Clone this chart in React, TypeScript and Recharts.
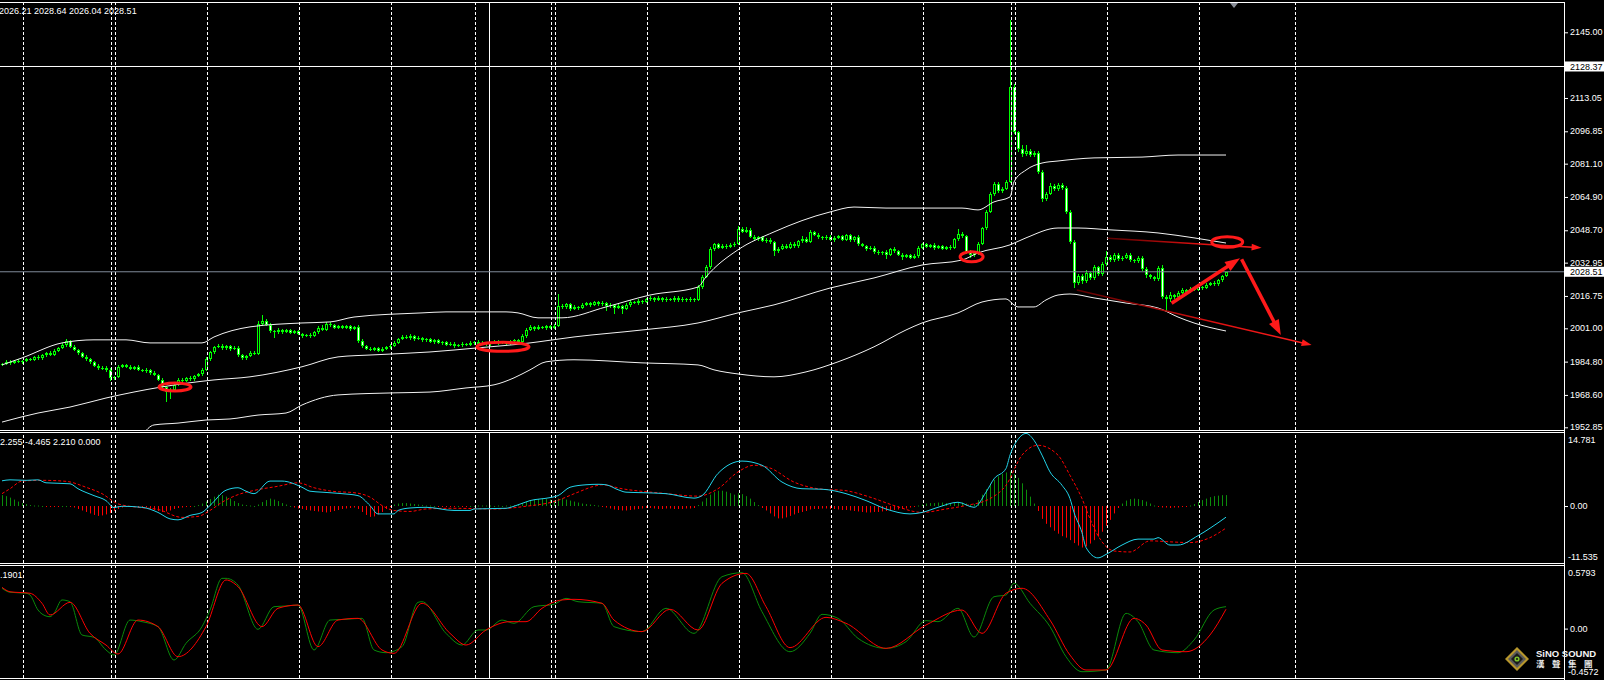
import React from 'react'
import { Bar, ComposedChart, Line, ReferenceDot, ReferenceLine, XAxis, YAxis } from 'recharts'

// XAUUSD H1 - one value per bar, bar index 0..306
const firstOpen = 1983.1
const closes = [
  1983.6, 1984.8, 1984.2, 1985.0, 1984.5, 1985.3, 1986.1, 1985.6, 1987.0, 1986.4,
  1987.8, 1988.9, 1988.2, 1990.1, 1991.5, 1993.0, 1994.6, 1991.8, 1990.6, 1988.9,
  1987.2, 1985.9, 1984.4, 1982.8, 1981.5, 1981.9, 1980.6, 1976.8, 1977.4, 1982.3,
  1983.0, 1982.2, 1981.4, 1982.1, 1980.9, 1980.2, 1980.8, 1979.3, 1978.5, 1976.0,
  1972.4, 1970.2, 1971.0, 1973.5, 1976.1, 1975.6, 1976.8, 1976.2, 1977.9, 1978.6,
  1980.8, 1985.9, 1989.4, 1991.8, 1992.5, 1991.3, 1992.2, 1990.9, 1991.6, 1987.8,
  1986.4, 1987.5, 1989.2, 1988.7, 2003.0, 2004.6, 2002.8, 1999.8, 1999.0, 2000.3,
  1999.2, 2000.0, 1998.8, 1999.5, 1998.3, 1997.4, 1997.9, 1997.2, 1999.0, 2001.3,
  2000.4, 2003.2, 2002.5, 2001.2, 2002.0, 2001.4, 2001.9, 2000.8, 2001.6, 1995.0,
  1992.3, 1991.0, 1990.6, 1991.4, 1990.2, 1991.0, 1991.7, 1992.5, 1994.1, 1995.8,
  1996.9, 1996.2, 1997.1, 1995.8, 1996.4, 1995.2, 1995.7, 1994.5, 1995.1, 1993.9,
  1994.3, 1993.1, 1993.6, 1992.4, 1992.9, 1993.5, 1993.0, 1993.9, 1994.4, 1993.6,
  1994.0, 1993.2, 1993.8, 1994.5, 1993.9, 1994.2, 1993.5, 1994.6, 1995.1, 1994.3,
  1997.2, 2000.4, 2001.5, 2000.8, 2001.7, 2001.2, 2002.1, 2001.4, 2002.3, 2012.0,
  2011.2, 2012.8, 2010.4, 2011.6, 2010.9, 2012.3, 2013.1, 2012.4, 2013.6, 2012.9,
  2013.4, 2011.8, 2012.5, 2011.0, 2011.7, 2010.6, 2012.4, 2014.0, 2013.2, 2014.3,
  2013.8, 2015.1, 2015.8, 2014.9, 2015.6, 2014.7, 2015.4, 2014.8, 2015.9, 2014.6,
  2015.2, 2014.7, 2015.3, 2014.9, 2021.0, 2026.2, 2030.8, 2039.5, 2041.8, 2040.3,
  2041.2, 2040.5, 2041.6, 2042.2, 2049.4, 2048.1, 2048.9, 2045.6, 2044.3, 2045.2,
  2043.6, 2044.2, 2042.9, 2038.5, 2039.6, 2041.2, 2040.3, 2042.0, 2041.0, 2043.5,
  2044.6, 2043.2, 2047.8, 2046.6, 2045.4, 2044.8, 2045.6, 2044.1, 2045.0, 2045.8,
  2044.2, 2046.2, 2043.9, 2045.4, 2042.0, 2041.1, 2039.6, 2040.2, 2038.1, 2037.4,
  2038.0, 2036.9, 2039.6, 2038.4, 2036.8, 2035.9, 2036.5, 2035.4, 2036.2, 2040.3,
  2041.8, 2040.7, 2041.4, 2040.2, 2040.9, 2039.8, 2040.5, 2040.1, 2044.3, 2047.0,
  2045.8, 2038.2, 2036.6, 2037.4, 2042.0, 2049.6, 2057.8, 2066.4, 2071.2, 2068.0,
  2068.9, 2072.4, 2118.5, 2096.3, 2088.0, 2085.6, 2087.3, 2085.2, 2086.5, 2077.0,
  2063.8, 2066.5, 2070.2, 2068.7, 2070.8, 2069.4, 2057.8, 2043.0, 2023.2, 2026.4,
  2024.0, 2027.8, 2025.4, 2030.6, 2027.2, 2032.2, 2035.8, 2034.2, 2036.8, 2034.6,
  2035.4, 2036.8, 2034.0, 2033.6, 2035.2, 2030.0, 2026.8, 2025.9, 2024.8, 2030.2,
  2016.4, 2015.2, 2017.1, 2016.3, 2018.4, 2019.6, 2018.9, 2020.1, 2019.8, 2021.0,
  2020.6, 2022.3, 2023.1, 2022.4, 2024.5, 2026.21, 2028.51,
]
const wickUp = [
  0.5, 0.8, 0.6, 0.4, 0.9, 0.5, 0.7, 0.6, 0.4, 0.8, 0.6, 0.5, 0.9, 0.7, 0.5, 0.8, 1.2, 0.6, 0.9, 0.5,
  0.8, 0.6, 0.5, 0.9, 0.7, 0.6, 0.8, 1.0, 0.6, 0.9, 0.7, 0.5, 0.8, 0.6, 0.9, 0.5, 0.7, 0.6, 0.8, 0.5,
  0.9, 0.6, 0.8, 0.7, 0.5, 0.9, 0.6, 0.8, 0.5, 0.7, 0.9, 1.1, 0.8, 0.6, 0.9, 0.7, 0.5, 0.8, 0.6, 0.9,
  0.7, 0.5, 0.8, 0.9, 1.6, 3.0, 0.8, 0.7, 0.5, 0.9, 0.6, 0.8, 0.5, 0.7, 0.9, 0.6, 0.5, 0.8, 0.7, 0.9,
  1.4, 1.0, 0.7, 0.6, 0.8, 0.5, 0.9, 0.6, 0.7, 0.8, 0.6, 0.5, 0.9, 0.7, 0.6, 0.8, 0.5, 0.7, 0.9, 0.6,
  0.8, 0.7, 0.9, 0.5, 0.7, 0.6, 0.8, 0.5, 0.6, 0.9, 0.5, 0.7, 0.6, 0.8, 0.5, 0.9, 0.6, 0.7, 0.5, 0.8,
  0.6, 0.5, 0.7, 0.9, 0.6, 0.8, 0.5, 0.7, 0.6, 0.9, 0.8, 0.7, 0.9, 0.6, 0.8, 0.5, 0.7, 0.6, 0.9, 5.8,
  0.9, 0.7, 0.6, 0.8, 0.5, 0.9, 0.7, 0.6, 0.8, 0.5, 0.7, 0.6, 0.8, 0.5, 0.9, 0.6, 0.7, 0.8, 0.5, 0.9,
  0.6, 0.8, 0.7, 0.5, 0.9, 0.6, 0.8, 0.5, 0.7, 0.6, 0.8, 0.5, 0.7, 0.6, 1.0, 0.9, 1.2, 1.1, 0.8, 0.7,
  0.9, 0.6, 0.8, 1.0, 1.6, 0.9, 1.2, 0.7, 0.8, 0.6, 0.9, 0.7, 0.6, 0.8, 0.9, 0.7, 0.6, 0.8, 0.9, 0.7,
  1.4, 0.8, 1.0, 0.7, 0.9, 0.6, 0.8, 0.7, 0.9, 0.6, 0.8, 0.7, 0.9, 0.6, 0.8, 0.7, 0.6, 0.9, 0.7, 0.8,
  0.6, 0.9, 0.7, 0.8, 0.6, 0.9, 0.7, 0.6, 0.8, 0.9, 0.7, 0.8, 0.6, 0.9, 0.7, 0.8, 0.6, 0.9, 0.8, 2.2,
  0.9, 0.7, 0.8, 0.6, 0.9, 0.8, 1.0, 1.1, 0.9, 1.2, 0.9, 0.8, 32.5, 1.2, 0.9, 2.0, 2.8, 1.0, 0.9, 0.8,
  0.9, 0.7, 1.3, 0.9, 1.1, 0.8, 0.9, 1.0, 1.2, 0.8, 1.0, 1.5, 0.8, 1.1, 0.9, 1.2, 2.8, 0.9, 1.0, 0.8,
  0.9, 0.7, 1.0, 0.8, 1.2, 0.9, 0.7, 0.8, 0.6, 0.9, 1.8, 0.9, 1.4, 0.8, 0.7, 0.9, 0.6, 0.8, 0.7, 0.6,
  0.8, 0.7, 0.6, 0.9, 0.7, 0.5, 0.13,
]
const wickDown = [
  0.6, 0.5, 0.8, 0.7, 0.5, 0.9, 0.6, 0.7, 0.5, 0.8, 0.7, 0.6, 0.5, 0.8, 0.6, 0.7, 0.9, 0.6, 0.8, 0.7,
  0.6, 0.9, 0.7, 0.8, 0.6, 0.9, 0.7, 1.2, 0.8, 0.6, 0.8, 0.6, 0.9, 0.7, 0.8, 0.5, 0.7, 0.9, 0.6, 0.8,
  1.2, 5.0, 3.5, 0.8, 0.6, 0.9, 0.7, 0.6, 0.8, 0.5, 0.6, 0.8, 0.7, 0.9, 0.6, 0.8, 0.7, 0.9, 0.6, 0.8,
  1.0, 0.7, 0.6, 0.8, 0.9, 0.7, 0.6, 1.0, 2.5, 0.7, 0.9, 0.6, 0.8, 0.7, 0.6, 0.9, 0.7, 0.8, 0.6, 0.7,
  0.8, 0.6, 0.9, 0.7, 0.6, 0.8, 0.7, 0.9, 0.6, 1.1, 0.9, 0.7, 0.6, 0.8, 0.9, 0.6, 0.7, 0.8, 0.6, 0.9,
  0.7, 0.6, 0.8, 0.9, 0.6, 0.7, 0.8, 0.6, 0.9, 0.7, 0.8, 0.6, 0.7, 0.9, 0.6, 0.8, 0.7, 0.6, 0.9, 0.7,
  0.6, 0.8, 0.7, 0.6, 0.9, 0.7, 0.8, 0.6, 0.7, 0.9, 0.7, 0.8, 0.6, 0.9, 0.7, 0.6, 0.8, 0.7, 0.9, 0.6,
  0.8, 0.7, 0.9, 0.6, 0.8, 0.7, 0.6, 0.9, 0.7, 0.8, 1.0, 2.6, 0.8, 3.2, 0.7, 2.4, 0.8, 0.9, 0.6, 0.7,
  0.8, 0.6, 0.7, 0.9, 0.6, 0.8, 0.7, 0.6, 0.9, 0.7, 0.6, 0.8, 0.7, 1.2, 0.8, 0.9, 0.7, 1.0, 0.8, 0.9,
  0.7, 0.8, 0.6, 0.9, 0.7, 0.8, 0.6, 0.9, 0.7, 0.8, 0.6, 0.9, 0.7, 2.4, 0.8, 0.7, 0.9, 0.6, 0.8, 0.7,
  0.9, 0.7, 0.8, 0.6, 0.9, 0.7, 0.8, 0.6, 0.9, 0.7, 0.8, 0.6, 0.9, 0.7, 0.8, 0.6, 0.9, 0.7, 0.8, 0.6,
  0.9, 2.2, 0.7, 0.8, 0.6, 1.8, 0.7, 0.8, 0.6, 0.9, 0.7, 0.8, 0.6, 0.9, 0.7, 0.8, 0.6, 0.9, 0.7, 0.8,
  0.9, 1.0, 1.6, 0.8, 0.9, 0.7, 0.8, 0.6, 0.9, 1.2, 1.0, 0.8, 0.9, 1.0, 1.4, 1.2, 0.8, 1.0, 0.9, 1.1,
  1.2, 0.9, 0.8, 1.0, 0.7, 0.9, 1.1, 0.8, 2.4, 1.0, 1.2, 0.8, 0.9, 1.1, 0.8, 0.9, 0.7, 1.0, 0.8, 0.9,
  0.8, 0.9, 0.7, 1.0, 0.8, 0.9, 1.2, 0.8, 1.0, 0.9, 1.1, 6.2, 1.4, 0.9, 0.8, 0.7, 0.9, 0.6, 0.8, 0.7,
  0.9, 0.6, 0.8, 0.7, 0.6, 0.8, 0.17,
]

// Bollinger bands (20, 2), read at the bars where they bend
const upperBandBars = [0, 5, 15, 23, 31, 37, 50, 53, 62, 75, 82, 88, 105, 111, 126, 129, 134, 140, 151, 162, 174, 176, 184, 193, 207, 213, 221, 230, 240, 244, 248, 252, 253, 256, 260, 264, 273, 285, 294, 306]
const upperBand = [1983.2, 1986.6, 1993.9, 1995.4, 1995.4, 1993.9, 1993.9, 1996.8, 2001.7, 2003.6, 2004.1, 2006.5, 2008.5, 2009.0, 2009.0, 2008.5, 2006.1, 2006.1, 2011.4, 2017.2, 2021.1, 2026.0, 2039.2, 2047.9, 2057.6, 2060.0, 2059.5, 2059.5, 2059.5, 2058.6, 2062.5, 2064.9, 2072.2, 2078.0, 2081.4, 2082.4, 2083.9, 2084.3, 2085.3, 2085.3]
const middleBandBars = [0, 9, 17, 26, 40, 53, 62, 75, 84, 93, 107, 119, 132, 134, 143, 160, 174, 184, 193, 207, 218, 230, 240, 244, 252, 256, 264, 269, 277, 289, 298, 306]
const middleBand = [1955.4, 1959.8, 1962.7, 1967.1, 1972.5, 1975.9, 1977.4, 1982.3, 1987.1, 1988.1, 1989.5, 1991.5, 1993.9, 1994.4, 1996.8, 2000.2, 2003.6, 2008.5, 2012.4, 2020.6, 2025.5, 2031.8, 2034.2, 2037.7, 2041.6, 2045.0, 2049.8, 2049.8, 2048.9, 2047.4, 2045.0, 2042.5]
const lowerBandBars = [35, 38, 44, 51, 57, 64, 71, 75, 84, 98, 107, 116, 123, 128, 132, 136, 143, 160, 174, 178, 184, 193, 201, 209, 218, 226, 230, 239, 245, 251, 253, 254, 258, 261, 264, 267, 273, 281, 289, 294, 298, 306]
const lowerBand = [1949.0, 1954.0, 1954.9, 1956.4, 1956.9, 1958.8, 1959.8, 1963.7, 1968.6, 1969.6, 1970.0, 1972.0, 1973.5, 1976.9, 1980.8, 1984.7, 1985.7, 1984.2, 1983.2, 1980.8, 1978.8, 1977.4, 1979.8, 1984.7, 1992.0, 2000.2, 2003.6, 2008.5, 2013.8, 2015.3, 2012.4, 2011.4, 2011.4, 2014.8, 2017.2, 2017.7, 2015.8, 2013.3, 2010.9, 2006.5, 2003.6, 1999.7]

// MACD histogram, one value per bar
const macdHist = [
  2.2, 2.0, 1.7, 1.3, 0.9, 0.6, 0.4, 0.2, 0.1, 0.1, 0.0, -0.1, -0.1, -0.2, -0.1, 0.0, 0.0, -0.1, -0.3, -0.6,
  -0.9, -1.2, -1.5, -1.8, -2.0, -1.9, -1.7, -1.4, -1.0, -0.6, -0.3, -0.1, -0.1, -0.2, -0.3, -0.2, -0.3, -0.5, -0.8, -1.0,
  -1.2, -1.1, -0.9, -0.6, -0.4, -0.3, -0.2, -0.1, 0.0, 0.2, 0.5, 0.9, 1.4, 1.9, 2.3, 2.2, 1.9, 1.5, 1.0, 0.6,
  0.3, 0.2, 0.1, 0.0, 0.3, 0.8, 1.2, 1.5, 1.3, 1.0, 0.6, 0.3, 0.0, -0.3, -0.5, -0.6, -0.8, -0.9, -1.0, -1.1,
  -1.2, -1.3, -1.2, -1.0, -0.8, -0.6, -0.5, -0.4, -0.3, -0.6, -1.2, -1.8, -2.2, -2.1, -1.7, -1.2, -0.6, -0.1, 0.3, 0.5,
  0.6, 0.6, 0.5, 0.4, 0.3, 0.2, 0.1, 0.1, 0.0, -0.1, -0.1, -0.1, -0.1, -0.1, 0.0, -0.1, -0.1, 0.0, 0.0, 0.1,
  0.1, 0.1, 0.1, 0.0, 0.1, 0.0, 0.1, 0.1, 0.2, 0.3, 0.6, 0.9, 1.1, 1.3, 1.4, 1.5, 1.4, 1.3, 1.1, 1.5,
  1.5, 1.3, 1.1, 0.9, 0.7, 0.5, 0.4, 0.3, 0.2, 0.1, -0.1, -0.3, -0.5, -0.7, -0.8, -0.9, -0.9, -0.8, -0.7, -0.6,
  -0.5, -0.4, -0.4, -0.5, -0.6, -0.6, -0.5, -0.5, -0.6, -0.6, -0.6, -0.5, -0.5, -0.4, 0.2, 0.9, 1.6, 2.3, 2.8, 3.1,
  3.1, 2.9, 2.6, 2.3, 2.6, 2.4, 2.0, 1.5, 0.8, 0.2, -0.4, -0.9, -1.5, -2.1, -2.5, -2.5, -2.3, -2.0, -1.7, -1.4,
  -1.2, -1.0, -0.7, -0.6, -0.6, -0.5, -0.5, -0.6, -0.6, -0.7, -0.8, -0.8, -0.9, -1.0, -1.1, -1.2, -1.3, -1.3, -1.2, -1.2,
  -1.1, -1.0, -0.9, -0.8, -0.7, -0.6, -0.5, -0.3, -0.1, 0.1, 0.3, 0.5, 0.6, 0.6, 0.7, 0.7, 0.6, 0.6, 0.7, 0.8,
  0.7, 0.5, 0.3, 0.4, 1.2, 2.3, 3.4, 4.5, 5.3, 6.0, 6.5, 6.8, 7.0, 6.5, 5.7, 4.6, 3.3, 1.9, 0.5, -1.0,
  -2.6, -3.6, -4.3, -5.0, -5.6, -6.1, -6.4, -6.9, -7.5, -8.0, -8.4, -8.2, -7.6, -6.9, -6.2, -5.2, -4.0, -2.8, -1.5, -0.4,
  0.5, 1.1, 1.4, 1.5, 1.4, 1.2, 0.9, 0.5, 0.1, -0.2, -0.3, -0.3, -0.4, -0.3, -0.3, -0.2, -0.1, 0.1, 0.4, 0.8,
  1.2, 1.5, 1.8, 2.0, 2.1, 2.2, 2.21,
]
const macdBars = [0, 2, 6, 9, 11, 17, 19, 23, 26, 28, 30, 35, 39, 42, 44, 47, 50, 52, 56, 59, 61, 63, 67, 70, 75, 77, 80, 85, 89, 92, 94, 98, 99, 102, 106, 113, 117, 118, 126, 128, 132, 137, 139, 142, 146, 149, 151, 154, 156, 160, 166, 173, 175, 179, 185, 190, 195, 200, 205, 211, 216, 221, 227, 230, 234, 239, 243, 246, 248, 251, 252, 254, 256, 258, 260, 262, 265, 267, 268, 270, 271, 274, 276, 280, 284, 288, 289, 292, 294, 299, 302, 306]
const macdLine = [5.1, 5.3, 5.2, 5.3, 4.7, 4.5, 3.5, 2.1, 1.1, -0.3, -0.05, -0.26, -1.3, -2.6, -2.8, -1.9, -1.3, 0.1, 3.2, 3.7, 3.0, 2.5, 5.05, 5.05, 3.8, 3.0, 2.8, 2.5, 2.1, 0.1, -1.6, -1.6, -0.9, -0.4, -0.26, -0.9, -0.9, -0.6, -0.46, -0.05, 1.1, 1.7, 2.1, 3.8, 4.3, 4.4, 4.3, 3.3, 2.8, 2.7, 2.5, 1.6, 2.1, 6.6, 9.1, 8.25, 4.85, 3.5, 3.4, 2.5, 1.1, -0.6, -1.6, -1.3, -0.26, 0.76, -0.26, 2.8, 5.5, 7.6, 10.3, 13.5, 14.7, 13.3, 10.3, 6.9, 4.2, 1.5, -1.3, -5.4, -8.4, -10.5, -9.8, -7.9, -6.7, -6.7, -6.4, -7.9, -7.9, -6.0, -4.5, -2.255]
const signalBars = [0, 2, 5, 10, 16, 21, 25, 29, 34, 39, 45, 49, 52, 55, 59, 63, 69, 74, 78, 83, 88, 92, 95, 98, 102, 106, 113, 123, 131, 138, 144, 148, 150, 155, 165, 174, 179, 184, 188, 192, 198, 204, 211, 217, 223, 230, 236, 241, 247, 251, 255, 259, 264, 267, 270, 272, 274, 278, 282, 287, 292, 297, 302, 306]
const signalLine = [2.5, 3.5, 5.05, 5.2, 5.0, 3.8, 2.5, 0.44, -0.26, -0.7, -2.3, -2.1, -0.9, 0.76, 2.3, 3.15, 4.0, 4.7, 3.7, 2.95, 2.7, 1.8, 0.1, -0.9, -1.1, -0.6, -0.46, -0.6, -0.05, 0.9, 2.8, 4.0, 4.3, 3.5, 2.6, 2.0, 3.5, 6.9, 8.25, 7.7, 4.85, 3.5, 3.1, 1.8, 0.1, -1.3, -0.6, 0.1, 1.5, 4.2, 10.3, 12.3, 10.3, 6.2, 1.5, -2.6, -6.0, -9.1, -9.3, -7.05, -7.25, -7.4, -6.4, -4.465]

// oscillator (main + signal)
const oscBars = [0, 2, 6, 7, 9, 10, 12, 13, 15, 17, 20, 23, 26, 28, 32, 35, 39, 43, 46, 50, 52, 55, 56, 59, 64, 68, 71, 74, 78, 82, 86, 90, 93, 96, 100, 104, 105, 111, 115, 119, 121, 125, 128, 133, 138, 141, 144, 150, 153, 160, 166, 173, 180, 185, 190, 197, 202, 205, 209, 214, 221, 226, 231, 234, 239, 243, 248, 251, 253, 257, 262, 266, 270, 276, 281, 284, 288, 294, 298, 303, 306]
const oscLine = [0.373, 0.336, 0.327, 0.311, 0.172, 0.135, 0.110, 0.141, 0.265, 0.249, -0.059, -0.081, -0.198, -0.245, 0.079, 0.064, 0.018, -0.291, -0.136, 0.018, 0.172, 0.465, 0.465, 0.403, -0.007, 0.203, 0.209, 0.218, -0.198, 0.079, 0.086, 0.095, -0.198, -0.223, -0.167, 0.243, 0.249, -0.044, -0.152, -0.013, -0.013, 0.079, 0.049, 0.203, 0.225, 0.280, 0.249, 0.234, 0.018, -0.028, 0.188, -0.044, 0.480, 0.517, 0.156, -0.214, -0.044, 0.132, 0.095, -0.090, -0.183, -0.121, 0.074, 0.064, 0.188, -0.078, 0.295, 0.311, 0.419, 0.234, 0.018, -0.260, -0.399, -0.383, 0.141, 0.064, -0.198, -0.223, -0.106, 0.172, 0.203]
const oscSignalBars = [0, 2, 7, 10, 12, 17, 22, 26, 29, 34, 39, 44, 51, 56, 59, 65, 69, 74, 79, 84, 89, 95, 98, 105, 112, 116, 121, 127, 131, 135, 140, 143, 150, 153, 160, 167, 174, 180, 186, 191, 197, 206, 211, 221, 231, 240, 245, 251, 255, 262, 267, 271, 276, 283, 286, 290, 296, 302, 306]
const oscSignal = [0.382, 0.341, 0.327, 0.234, 0.126, 0.243, -0.044, -0.152, -0.235, 0.079, 0.018, -0.260, 0.018, 0.450, 0.388, 0.018, 0.188, 0.218, -0.167, 0.079, 0.095, -0.198, -0.229, 0.234, -0.044, -0.152, -0.013, 0.064, 0.064, 0.188, 0.265, 0.271, 0.234, 0.079, -0.028, 0.179, -0.013, 0.419, 0.511, 0.203, -0.176, 0.104, 0.049, -0.183, 0.033, 0.172, -0.044, 0.327, 0.373, 0.079, -0.245, -0.383, -0.383, 0.095, 0.033, -0.198, -0.214, -0.059, 0.179]

// axis ticks
const priceTicks = [2145, 2113.05, 2096.85, 2081.1, 2064.9, 2048.7, 2032.95, 2016.75, 2001, 1984.8, 1968.6, 1952.85]
const macdTicks = [14.781, 0, -11.535]
const oscTicks = [0.5793, 0, -0.4572]

// objects on the chart
const daySeparators = [5.375, 27.375, 28.375, 51.375, 74.375, 97.375, 118.375, 137.375, 138.375, 161.375, 184.375, 207.375, 230.375, 252.375, 253.375, 276.375, 299.375, 323.375]
const cursorBar = 121.875
const levelLine = 2128.37
const bidPrice = 2028.51
const ellipseBars = [43.25, 125.25, 242.4, 306.3]
const ellipsePrices = [1972.5, 1992.0, 2035.8, 2043.0]
const thinFromBars = [276.4, 268.7]
const thinFromPrices = [2044.8, 2019.6]
const thinToBars = [314.9, 327.4]
const thinToPrices = [2040.2, 1992.9]
const thickFromBars = [292.4, 309.9]
const thickFromPrices = [2013.2, 2034.6]
const thickToBars = [309.5, 319.7]
const thickToPrices = [2035.1, 1997.8]

const LIME = '#00ff00'
const FONT = '"Liberation Sans", Arial, sans-serif'
const X_DOMAIN: [number, number] = [-0.5, 390.5]
const PRICE_DOMAIN: [number, number] = [1951.54, 2159.74]
const MACD_DOMAIN: [number, number] = [-11.535, 14.781]
const OSC_DOMAIN: [number, number] = [-0.4572, 0.5793]
const ellipseSizes = [
  { rx: 16, ry: 4 },
  { rx: 26, ry: 4.5 },
  { rx: 11.5, ry: 5 },
  { rx: 15.5, ry: 5.3 },
]

const candles = closes.map((close, i) => {
  const open = i === 0 ? firstOpen : closes[i - 1]
  const high = Math.max(open, close) + wickUp[i]
  const low = Math.min(open, close) - wickDown[i]
  return { i, open, high, low, close, range: [low, high], hist: macdHist[i] }
})

const toPoints = (bars: number[], values: number[]) => bars.map((i, k) => ({ i, v: values[k] }))

function CandleShape(props: any) {
  const { x, y, width, height, payload } = props
  const { open, close, high, low } = payload
  const cx = Math.round(x + width / 2)
  const span = high - low || 1
  const py = (v: number) => y + ((high - v) / span) * height
  const top = Math.round(Math.min(py(open), py(close)))
  const bottom = Math.round(Math.max(py(open), py(close)))
  const bull = close >= open
  return (
    <g>
      <line x1={cx + 0.5} x2={cx + 0.5} y1={Math.round(y)} y2={Math.round(y + height)} stroke={LIME} />
      {bottom - top < 2 ? (
        <line x1={cx - 1} x2={cx + 2} y1={top + 0.5} y2={top + 0.5} stroke={LIME} />
      ) : (
        <rect x={cx - 0.5} y={top + 0.5} width={2} height={bottom - top - 1} fill={bull ? '#000' : '#fff'} stroke={LIME} />
      )}
    </g>
  )
}

function HistShape(props: any) {
  const { x, y, width, height, payload } = props
  const cx = Math.round(x + width / 2)
  const top = Math.min(y, y + height)
  const h = Math.max(1, Math.abs(height))
  return <rect x={cx} y={top} width={1} height={h} fill={payload.hist >= 0 ? '#0b8c0b' : '#ff0000'} />
}

function makeTick(domain: [number, number], format: (v: number) => string) {
  return (props: any) => {
    const { x, y, payload } = props
    const v = payload.value
    const atTop = v === domain[1]
    const atBottom = v === domain[0]
    const dy = atTop ? 6.5 : atBottom ? -6.5 : 0
    return (
      <g>
        {!atTop && !atBottom && <line x1={x - 6} x2={x - 2} y1={y + 0.5} y2={y + 0.5} stroke="#fff" />}
        <text x={atTop || atBottom ? x - 2 : x} y={y + dy} dy="0.35em" fill="#fff" fontSize={9} fontFamily={FONT}>
          {format(v)}
        </text>
      </g>
    )
  }
}

const priceTick = makeTick(PRICE_DOMAIN, (v) => v.toFixed(2))
const macdTick = makeTick(MACD_DOMAIN, (v) => (v === 0 ? '0.00' : String(v)))
const oscTick = makeTick(OSC_DOMAIN, (v) => (v === 0 ? '0.00' : String(v)))

function priceBadge(text: string) {
  return (props: any) => {
    const { viewBox } = props
    const yy = viewBox.y
    const xx = viewBox.x + viewBox.width + 1
    return (
      <g>
        <rect x={xx} y={yy - 5} width={40} height={10} fill="#fff" />
        <text x={xx + 5} y={yy} dy="0.35em" fill="#000" fontSize={9} fontFamily={FONT}>
          {text}
        </text>
      </g>
    )
  }
}

function arrowShape(id: string, width: number, headLen: number, headHalf: number, fade: boolean) {
  return (props: any) => {
    const { x1, y1, x2, y2 } = props
    const dx = x2 - x1
    const dy = y2 - y1
    const len = Math.hypot(dx, dy) || 1
    const ux = dx / len
    const uy = dy / len
    const bx = x2 - ux * headLen
    const by = y2 - uy * headLen
    const px = -uy * headHalf
    const py = ux * headHalf
    const stroke = fade ? `url(#${id})` : '#ff1a1a'
    return (
      <g>
        {fade && (
          <defs>
            <linearGradient id={id} gradientUnits="userSpaceOnUse" x1={x1} y1={y1} x2={x2} y2={y2}>
              <stop offset="0" stopColor="#5a0000" />
              <stop offset="0.6" stopColor="#e01010" />
              <stop offset="1" stopColor="#ff2020" />
            </linearGradient>
          </defs>
        )}
        <line x1={x1} y1={y1} x2={bx + ux * 1} y2={by + uy * 1} stroke={stroke} strokeWidth={width} />
        <polygon points={`${x2},${y2} ${bx + px},${by + py} ${bx - px},${by - py}`} fill="#ff1a1a" />
      </g>
    )
  }
}

function separators(keyPrefix: string) {
  return [
    ...daySeparators.map((d) => (
      <ReferenceLine key={`${keyPrefix}-d${d}`} x={d} stroke="#fff" strokeDasharray="3 2" strokeWidth={1} />
    )),
    <ReferenceLine key={`${keyPrefix}-cursor`} x={cursorBar} stroke="#fff" strokeWidth={1} />,
  ]
}

export default function App() {
  const upper = toPoints(upperBandBars, upperBand)
  const middle = toPoints(middleBandBars, middleBand)
  const lower = toPoints(lowerBandBars, lowerBand)
  const macd = toPoints(macdBars, macdLine)
  const signal = toPoints(signalBars, signalLine)
  const osc = toPoints(oscBars, oscLine)
  const oscSig = toPoints(oscSignalBars, oscSignal)

  return (
    <div style={{ position: 'relative', width: 1604, height: 680, background: '#000', overflow: 'hidden' }}>
      <style>{'body{margin:0;background:#000}'}</style>

      <div style={{ position: 'absolute', left: 0, top: 0 }}>
        <ComposedChart width={1604} height={431} data={candles} margin={{ top: 2, right: 0, bottom: 1, left: 0 }}>
          <XAxis type="number" dataKey="i" domain={X_DOMAIN} hide allowDataOverflow />
          <YAxis
            orientation="right"
            width={40}
            domain={PRICE_DOMAIN}
            ticks={priceTicks}
            interval={0}
            allowDataOverflow
            axisLine={false}
            tickLine={false}
            tickSize={4}
            tickMargin={2}
            tick={priceTick}
          />
          {separators('p')}
          <ReferenceLine y={levelLine} stroke="#fff" strokeWidth={1} label={priceBadge('2128.37')} />
          <ReferenceLine y={bidPrice} stroke="#7f8a99" strokeWidth={1} label={priceBadge('2028.51')} />
          <Line data={upper} type="monotone" dataKey="v" stroke="#f2f2f2" strokeWidth={1} dot={false} activeDot={false} isAnimationActive={false} />
          <Line data={middle} type="monotone" dataKey="v" stroke="#f2f2f2" strokeWidth={1} dot={false} activeDot={false} isAnimationActive={false} />
          <Line data={lower} type="monotone" dataKey="v" stroke="#f2f2f2" strokeWidth={1} dot={false} activeDot={false} isAnimationActive={false} />
          <Bar dataKey="range" barSize={3} shape={CandleShape} isAnimationActive={false} />
          {ellipseBars.map((b, k) => (
            <ReferenceDot
              key={`e${k}`}
              x={b}
              y={ellipsePrices[k]}
              r={4}
              shape={(p: any) => (
                <ellipse cx={p.cx} cy={p.cy} rx={ellipseSizes[k].rx} ry={ellipseSizes[k].ry} fill="none" stroke="#ff1a1a" strokeWidth={3} />
              )}
            />
          ))}
          {thinFromBars.map((b, k) => (
            <ReferenceLine
              key={`t${k}`}
              segment={[
                { x: b, y: thinFromPrices[k] },
                { x: thinToBars[k], y: thinToPrices[k] },
              ]}
              shape={arrowShape(`thin${k}`, 1.6, 10, 3.5, true)}
            />
          ))}
          {thickFromBars.map((b, k) => (
            <ReferenceLine
              key={`k${k}`}
              segment={[
                { x: b, y: thickFromPrices[k] },
                { x: thickToBars[k], y: thickToPrices[k] },
              ]}
              shape={arrowShape(`thick${k}`, 3.5, 15, 5.5, false)}
            />
          ))}
        </ComposedChart>
      </div>

      <div style={{ position: 'absolute', left: 0, top: 433 }}>
        <ComposedChart width={1604} height={130} data={candles} margin={{ top: 0, right: 0, bottom: 0, left: 0 }}>
          <XAxis type="number" dataKey="i" domain={X_DOMAIN} hide allowDataOverflow />
          <YAxis
            orientation="right"
            width={40}
            domain={MACD_DOMAIN}
            ticks={macdTicks}
            interval={0}
            allowDataOverflow
            axisLine={false}
            tickLine={false}
            tickSize={4}
            tickMargin={2}
            tick={macdTick}
          />
          {separators('m')}
          <Bar dataKey="hist" barSize={1} shape={HistShape} isAnimationActive={false} />
          <Line data={signal} type="monotone" dataKey="v" stroke="#ff0000" strokeWidth={1} strokeDasharray="3 2" dot={false} activeDot={false} isAnimationActive={false} />
          <Line data={macd} type="monotone" dataKey="v" stroke="#22d4ea" strokeWidth={1} dot={false} activeDot={false} isAnimationActive={false} />
        </ComposedChart>
      </div>

      <div style={{ position: 'absolute', left: 0, top: 566 }}>
        <ComposedChart width={1604} height={112} data={candles} margin={{ top: 0, right: 0, bottom: 0, left: 0 }}>
          <XAxis type="number" dataKey="i" domain={X_DOMAIN} hide allowDataOverflow />
          <YAxis
            orientation="right"
            width={40}
            domain={OSC_DOMAIN}
            ticks={oscTicks}
            interval={0}
            allowDataOverflow
            axisLine={false}
            tickLine={false}
            tickSize={4}
            tickMargin={2}
            tick={oscTick}
          />
          {separators('o')}
          <Line data={osc} type="monotone" dataKey="v" stroke="#0a8a0a" strokeWidth={1} dot={false} activeDot={false} isAnimationActive={false} />
          <Line data={oscSig} type="monotone" dataKey="v" stroke="#ff0000" strokeWidth={1} dot={false} activeDot={false} isAnimationActive={false} />
        </ComposedChart>
      </div>

      <svg width={1604} height={680} style={{ position: 'absolute', left: 0, top: 0, pointerEvents: 'none' }}>
        <line x1={0} x2={1565} y1={2.5} y2={2.5} stroke="#fff" />
        <line x1={1564.5} x2={1564.5} y1={2} y2={680} stroke="#fff" />
        <line x1={0} x2={1564} y1={430.5} y2={430.5} stroke="#fff" />
        <line x1={0} x2={1564} y1={432.5} y2={432.5} stroke="#fff" />
        <line x1={0} x2={1564} y1={563.5} y2={563.5} stroke="#fff" />
        <line x1={0} x2={1564} y1={565.5} y2={565.5} stroke="#fff" />
        <line x1={0} x2={1564} y1={678.5} y2={678.5} stroke="#fff" />
        <polygon points="1230,3 1238,3 1234,8" fill="#8a8f99" />
        <text x={-1} y={14} fill="#fff" fontSize={9} fontFamily={FONT}>
          2026.21 2028.64 2026.04 2028.51
        </text>
        <text x={0} y={444.5} fill="#fff" fontSize={9} fontFamily={FONT}>
          2.255 -4.465 2.210 0.000
        </text>
        <text x={0} y={578} fill="#fff" fontSize={9} fontFamily={FONT}>
          .1901
        </text>
        <g>
          <polygon points="1517,647 1529,659 1517,671 1505,659" fill="#b8972c" />
          <polygon points="1517,650 1526,659 1517,668 1508,659" fill="#5a5a5a" />
          <polygon points="1517,653 1523,659 1517,665 1511,659" fill="#1a1a1a" />
          <circle cx={1517} cy={659} r={2.6} fill="#7cc22a" />
          <circle cx={1517} cy={659} r={1} fill="#111" />
          <text x={1536} y={656.5} fill="#f4f4f4" fontSize={9.5} fontWeight="bold" fontFamily={FONT}>
            SiNO SOUND
          </text>
          {['漢', '聲', '集', '團'].map((c, k) => (
            <text key={c} x={1536 + k * 16} y={667} fill="#e8e8e8" fontSize={8.5} fontWeight="bold" fontFamily='"Noto Sans CJK TC", sans-serif'>
              {c}
            </text>
          ))}
        </g>
      </svg>
    </div>
  )
}
